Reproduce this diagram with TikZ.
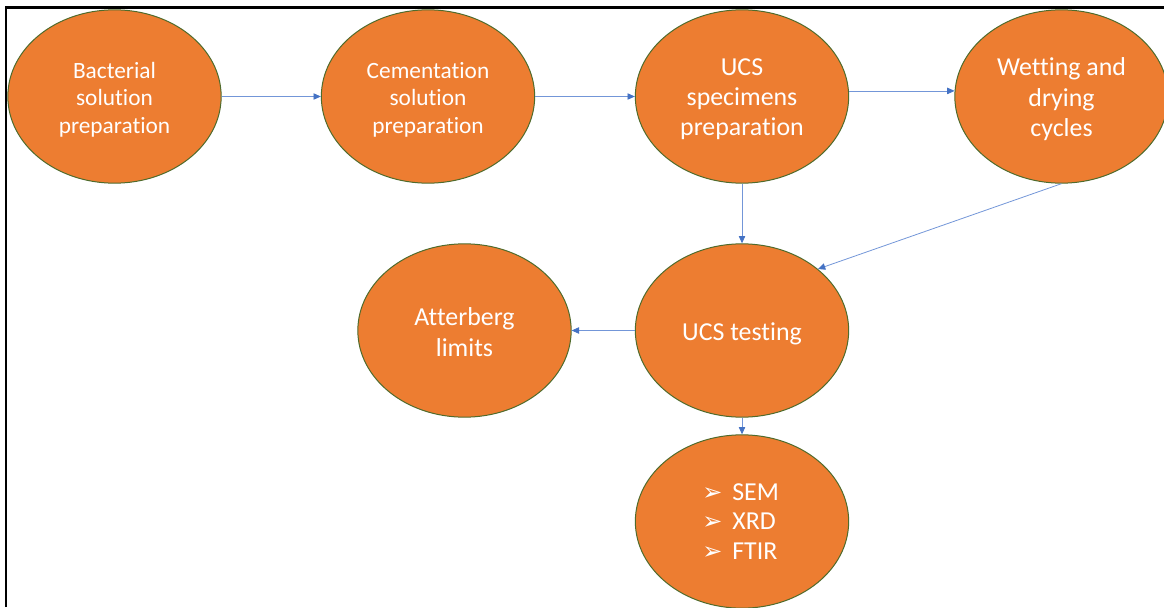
\documentclass[tikz,border=0pt]{standalone}
\usepackage{fontspec}
\setmainfont{Carlito}[Ligatures=NoCommon]
\newfontfamily\dingfont{DejaVu Sans}
\usetikzlibrary{shapes.geometric,arrows.meta}

\definecolor{stepfill}{HTML}{ED7D31}
\definecolor{stepline}{HTML}{4F6B2C}
\definecolor{linkline}{HTML}{7396D8}
\definecolor{linktip}{HTML}{4472C4}

\newcommand{\pointer}{\makebox[22.5pt][l]{\dingfont\fontsize{18}{18}\selectfont ➢}}

\tikzset{
  stage/.style={ellipse, draw=stepline, line width=0.75pt, fill=stepfill,
    minimum width=160pt, minimum height=130pt, inner sep=0pt},
  stagetext/.style={text=white, align=center, inner sep=0pt,
    font=\fontsize{19.4}{#1}\selectfont},
  stagetext/.default={22.8pt},
  smalltext/.style={text=white, align=center, inner sep=0pt,
    font=\fontsize{17.5}{20.6pt}\selectfont},
  link/.style={draw=linkline, line width=0.6pt,
    -{Triangle[length=5.5pt,width=4.8pt,color=linktip,fill=linktip]}},
  frame/.style={draw=black, line width=1.6pt}
}

\begin{document}
\begin{tikzpicture}[x=0.75pt,y=-0.75pt]
  \useasboundingbox (0,0) rectangle (1164,607);

  % outer frame (top and left edges)
  \draw[frame] (6,607) -- (6,7.5) -- (1164,7.5);

  % process stages
  \node[stage] (bact) at (114.5,96.5)  {};
  \node[stage] (cem)  at (428,96.5)    {};
  \node[stage] (spec) at (742,96.5)    {};
  \node[stage] (wd)   at (1061.5,96.5) {};
  \node[stage] (ucs)  at (742,330.5)   {};
  \node[stage] (att)  at (464.5,330.5) {};
  \node[stage] (anal) at (742,521.5)   {};

  % stage labels
  \node[smalltext] (bact-txt) at ([yshift=-2.2pt]bact.center) {Bacterial\\solution\\preparation};
  \node[smalltext] (cem-txt)  at ([yshift=-2.2pt]cem.center)  {Cementation\\solution\\preparation};
  \node[stagetext={22.5pt}] (spec-txt) at ([yshift=-2.2pt]spec.center) {UCS\\specimens\\preparation};
  \node[stagetext={22.8pt}] (wd-txt)   at ([yshift=-2.2pt]wd.center)   {Wetting and\\drying\\cycles};
  \node[stagetext] (ucs-txt)  at ([yshift=-2.2pt]ucs.center)  {UCS testing};
  \node[stagetext={23.2pt}] (att-txt)  at ([yshift=-1.5pt]att.center)  {Atterberg\\limits};
  \node[stagetext={22.1pt}, align=left] (anal-txt) at ([xshift=-1pt]anal.center)
    {\pointer SEM\\ \pointer XRD\\ \pointer FTIR};

  % connectors
  \draw[link] (bact.east) -- (cem.west);
  \draw[link] (cem.east) -- (spec.west);
  \draw[link] (spec.3) -- (wd.177);
  \draw[link] (spec.south) -- (ucs.north);
  \draw[link] (wd.south) -- (ucs.39);
  \draw[link] (ucs.west) -- (att.east);
  \draw[link] (ucs.south) -- (anal.north);
\end{tikzpicture}
\end{document}
